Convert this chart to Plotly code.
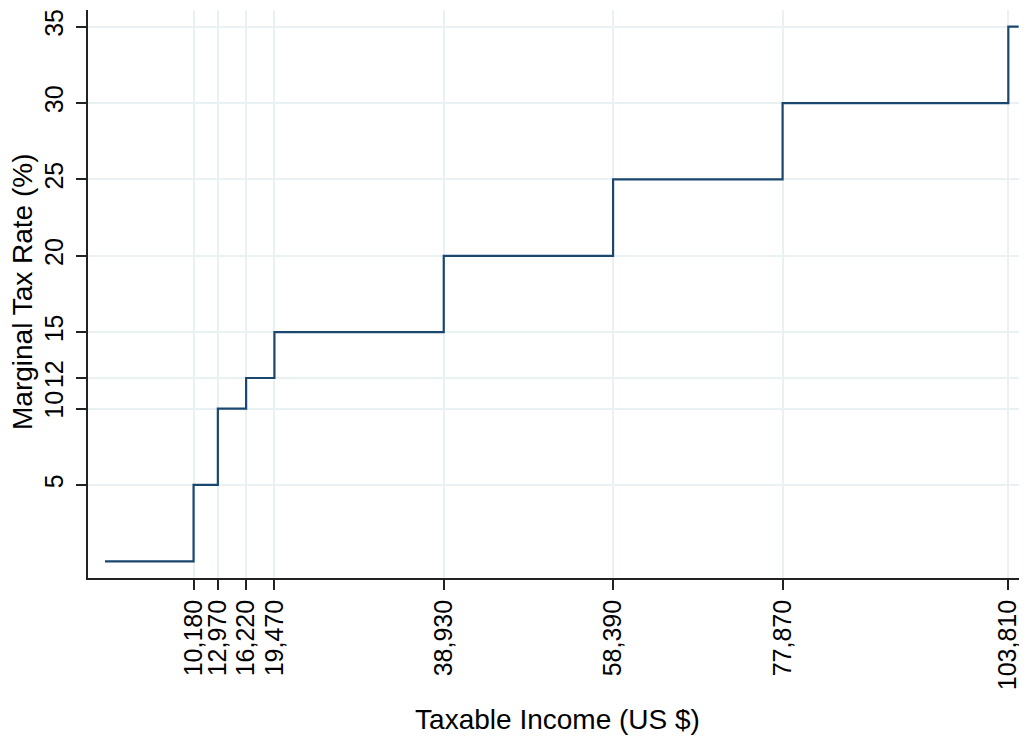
import plotly.graph_objects as go

# Bracket thresholds (US $) and marginal rates (%)
income = [0, 10180, 12970, 16220, 19470, 38930, 58390, 77870, 103810, 105000]
rate = [0, 5, 10, 12, 15, 20, 25, 30, 35, 35]

x_ticks = [10180, 12970, 16220, 19470, 38930, 58390, 77870, 103810]
x_labels = ["10,180", "12,970", "16,220", "19,470", "38,930", "58,390", "77,870", "103,810"]
y_ticks = [5, 10, 12, 15, 20, 25, 30, 35]
y_labels = ["5", "10", "12", "15", "20", "25", "30", "35"]

grid_color = "#e9f1f3"
line_color = "#1a476f"
axis_color = "#222222"
font_family = "Liberation Sans, Arial, sans-serif"

fig = go.Figure()
fig.add_trace(go.Scatter(
    x=income, y=rate, mode="lines",
    line=dict(color=line_color, width=2.2, shape="hv"),
    showlegend=False, hoverinfo="skip",
))

# page body has an 8px margin, so the figure is 8px smaller and offset
W, H = 1019, 732
L, R, T, B = 80, 0, 2, 162
fig.update_layout(
    width=W, height=H,
    margin=dict(l=L, r=R, t=T, b=B),
    paper_bgcolor="white", plot_bgcolor="white",
    font=dict(family=font_family, size=25, color="black"),
    showlegend=False,
)
fig.update_xaxes(
    range=[-1952, 105957], automargin=False,
    tickvals=x_ticks, ticktext=x_labels, tickangle=-90,
    ticks="outside", ticklen=10, tickwidth=1.5, tickcolor=axis_color,
    showline=True, linecolor=axis_color, linewidth=1.8,
    showgrid=True, gridcolor=grid_color, gridwidth=2,
    zeroline=False,
    title=dict(text="Taxable Income (US $)", standoff=20, font=dict(size=28)),
    tickfont=dict(size=25),
)
fig.update_yaxes(
    range=[-1.09, 36.09], automargin=False,
    tickvals=y_ticks, ticktext=y_labels, tickangle=-90,
    ticks="outside", ticklen=10, tickwidth=1.5, tickcolor=axis_color,
    ticklabelstandoff=3,
    showline=True, linecolor=axis_color, linewidth=1.8,
    showgrid=True, gridcolor=grid_color, gridwidth=2,
    zeroline=False,
    tickfont=dict(size=25),
)

# y-axis title placed as a rotated annotation left of the tick labels
plot_w = W - L - R
plot_h = H - T - B
fig.add_annotation(
    text="Marginal Tax Rate (%)", textangle=-90,
    xref="paper", yref="paper",
    x=-(L - 14) / plot_w, y=1 - (284 - T) / plot_h,
    xanchor="center", yanchor="middle", showarrow=False,
    font=dict(size=28, family=font_family, color="black"),
)

fig.write_html("out.html")
